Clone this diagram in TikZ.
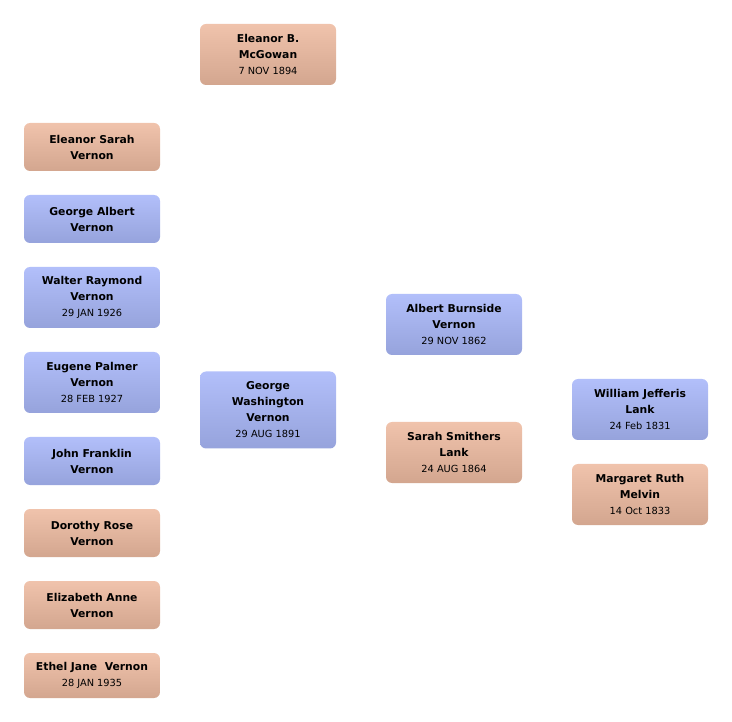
\documentclass[tikz,border=0pt]{standalone}
\usepackage{fontspec}
\setmainfont{DejaVu Sans}
\usepackage{tikz}

\definecolor{blueTop}{HTML}{B2BFFA}
\definecolor{blueBot}{HTML}{96A3DC}
\definecolor{pinkTop}{HTML}{F0C3AC}
\definecolor{pinkBot}{HTML}{D3A68F}

\newcommand{\nm}[1]{{\fontsize{10.8}{16}\selectfont\bfseries #1}}
\newcommand{\dt}[1]{{\fontsize{9.8}{14}\selectfont #1}}

\tikzset{
  person/.style={rounded corners=6pt,align=center,minimum width=136pt,
    inner sep=0pt,text=black,font=\fontsize{10.8}{16}\selectfont},
  male/.style={person,top color=blueTop,bottom color=blueBot},
  female/.style={person,top color=pinkTop,bottom color=pinkBot},
  two/.style={minimum height=48pt},
  three/.style={minimum height=61pt}
}

\begin{document}
\begin{tikzpicture}[x=1pt,y=-1pt]
\path[use as bounding box] (0,0) rectangle (732,722);

\node[female,three] (eleanorB) at (268,54.5) {\nm{Eleanor B.}\\\nm{McGowan}\\\dt{7 NOV 1894}};

\node[female,two] (eleanorS) at (92,147) {\nm{Eleanor Sarah}\\\nm{Vernon}};
\node[male,two] (georgeA) at (92,219) {\nm{George Albert}\\\nm{Vernon}};
\node[male,three] (walter) at (92,297.5) {\nm{Walter Raymond}\\\nm{Vernon}\\\dt{29 JAN 1926}};
\node[male,three] (eugene) at (92,382.5) {\nm{Eugene Palmer}\\\nm{Vernon}\\\dt{28 FEB 1927}};
\node[male,two] (john) at (92,461) {\nm{John Franklin}\\\nm{Vernon}};
\node[female,two] (dorothy) at (92,533) {\nm{Dorothy Rose}\\\nm{Vernon}};
\node[female,two] (elizabeth) at (92,605) {\nm{Elizabeth Anne}\\\nm{Vernon}};
\node[female,minimum height=45pt] (ethel) at (92,675.5) {\nm{Ethel Jane\ \ Vernon}\\\dt{28 JAN 1935}};

\node[male,minimum height=77pt] (georgeW) at (268,410) {\nm{George}\\\nm{Washington}\\\nm{Vernon}\\\dt{29 AUG 1891}};

\node[male,three] (albert) at (454,324.5) {\nm{Albert Burnside}\\\nm{Vernon}\\\dt{29 NOV 1862}};
\node[female,three] (sarah) at (454,452.5) {\nm{Sarah Smithers}\\\nm{Lank}\\\dt{24 AUG 1864}};

\node[male,three] (william) at (640,409.5) {\nm{William Jefferis}\\\nm{Lank}\\\dt{24 Feb 1831}};
\node[female,three] (margaret) at (640,494.5) {\nm{Margaret Ruth}\\\nm{Melvin}\\\dt{14 Oct 1833}};
\end{tikzpicture}
\end{document}
